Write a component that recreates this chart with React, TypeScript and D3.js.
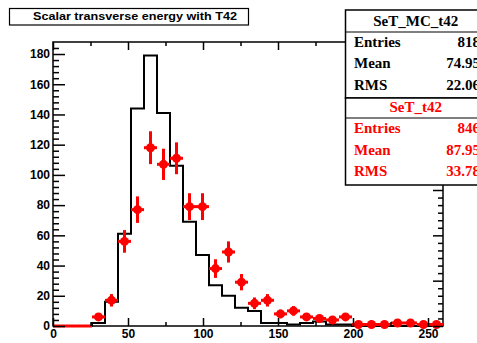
import React, { useEffect, useRef } from 'react';
import * as d3 from 'd3';

// Histogram binning: 30 bins on [0, 260]
const binLow = 0;
const binHigh = 260;
const nBins = 30;

// MC histogram (normalised to data), drawn as black steps
const mcCounts = [
  0, 0, 0, 2, 16, 61, 144, 179, 141, 106, 69, 47, 27, 20, 12,
  10, 2, 2, 1, 2, 3, 1, 1, 0, 0, 0, 0, 0, 0, 0,
];

// Data histogram, drawn as red points with sqrt(N) errors
const dataCounts = [
  0, 0, 0, 6, 17, 56, 77, 118, 107, 111, 79, 79, 38, 49, 29,
  15, 17, 8, 10, 6, 5, 4, 6, 1, 1, 1, 2, 2, 1, 1,
];

const xMajorTicks = [0, 50, 100, 150, 200, 250];
const xMinorTicks = [25, 75, 125, 175, 225];
const yMajorTicks = [0, 20, 40, 60, 80, 100, 120, 140, 160, 180];
const yRightMajorTicks = [0, 30, 60, 90, 120, 150, 180];

const titleText = 'Scalar transverse energy with T42';
const statNames = ['Entries', 'Mean', 'RMS'];
const mcName = 'SeT_MC_t42';
const mcStats = ['818', '74.95', '22.06'];
const dataName = 'SeT_t42';
const dataStats = ['846', '87.95', '33.78'];

const W = 477;
const H = 343;
const SANS = 'Liberation Sans, Arial, Helvetica, sans-serif';
const SERIF = 'Liberation Serif, Times New Roman, serif';

export default function App() {
  const svgRef = useRef<SVGSVGElement>(null);

  useEffect(() => {
    if (!svgRef.current) return;
    const svg = d3.select(svgRef.current);
    svg.selectAll('*').remove();

    const frame = { left: 53, right: 443, top: 42, bottom: 326 };
    const yMax = 179 * 1.05;

    const x = d3.scaleLinear().domain([binLow, binHigh]).range([frame.left, frame.right]);
    const y = d3.scaleLinear().domain([0, yMax]).range([frame.bottom, frame.top]);

    const binW = (binHigh - binLow) / nBins;
    const edges = d3.range(nBins + 1).map((i) => binLow + i * binW);

    svg.append('rect').attr('width', W).attr('height', H).attr('fill', '#fff');

    // frame
    svg
      .append('rect')
      .attr('x', frame.left)
      .attr('y', frame.top)
      .attr('width', frame.right - frame.left)
      .attr('height', frame.bottom - frame.top)
      .attr('fill', '#fff')
      .attr('stroke', '#000')
      .attr('stroke-width', 1.5);

    // MC step histogram
    const stepPts: [number, number][] = mcCounts.map((c, i) => [edges[i], c]);
    stepPts.push([edges[nBins], mcCounts[nBins - 1]]);
    const stepLine = d3
      .line<[number, number]>()
      .x((d) => x(d[0]))
      .y((d) => y(d[1]))
      .curve(d3.curveStepAfter);
    svg
      .append('path')
      .attr('d', stepLine(stepPts) || '')
      .attr('fill', 'none')
      .attr('stroke', '#000')
      .attr('stroke-width', 2);

    // data points
    const pts = svg.append('g');
    dataCounts.forEach((c, i) => {
      const cx = x(edges[i] + binW / 2);
      const cy = y(c);
      pts
        .append('line')
        .attr('x1', x(edges[i]))
        .attr('x2', x(edges[i + 1]))
        .attr('y1', cy)
        .attr('y2', cy)
        .attr('stroke', '#f00')
        .attr('stroke-width', 3);
      if (c > 0) {
        const e = Math.sqrt(c);
        pts
          .append('line')
          .attr('x1', cx)
          .attr('x2', cx)
          .attr('y1', y(c - e))
          .attr('y2', y(c + e))
          .attr('stroke', '#f00')
          .attr('stroke-width', 3);
        pts.append('circle').attr('cx', cx).attr('cy', cy).attr('r', 4.5).attr('fill', '#f00');
      }
    });

    const styleAxis = (g: d3.Selection<SVGGElement, unknown, null, undefined>) => {
      g.select('.domain').remove();
      g.selectAll('line').attr('stroke', '#000').attr('stroke-width', 1.5);
      g.selectAll('text')
        .attr('fill', '#000')
        .attr('font-family', SANS)
        .attr('font-weight', 'bold')
        .attr('font-size', 12);
      g.attr('font-family', null).attr('font-size', null);
    };

    // bottom axis
    svg
      .append('g')
      .attr('transform', `translate(0,${frame.bottom})`)
      .call(d3.axisBottom(x).tickValues(xMajorTicks).tickSize(-8).tickPadding(3).tickFormat(d3.format('d')))
      .call(styleAxis);
    svg
      .append('g')
      .attr('transform', `translate(0,${frame.bottom})`)
      .call(d3.axisBottom(x).tickValues(xMinorTicks).tickSize(-4).tickFormat(() => ''))
      .call(styleAxis);

    // top axis (ticks only)
    svg
      .append('g')
      .attr('transform', `translate(0,${frame.top})`)
      .call(d3.axisTop(x).tickValues(xMajorTicks).tickSize(-8).tickFormat(() => ''))
      .call(styleAxis);
    svg
      .append('g')
      .attr('transform', `translate(0,${frame.top})`)
      .call(d3.axisTop(x).tickValues(xMinorTicks).tickSize(-4).tickFormat(() => ''))
      .call(styleAxis);

    // left axis
    const yMinor = d3.range(0, yMax, 4).filter((v) => v % 20 !== 0);
    svg
      .append('g')
      .attr('transform', `translate(${frame.left},0)`)
      .call(d3.axisLeft(y).tickValues(yMajorTicks).tickSize(-12).tickPadding(3).tickFormat(d3.format('d')))
      .call(styleAxis);
    svg
      .append('g')
      .attr('transform', `translate(${frame.left},0)`)
      .call(d3.axisLeft(y).tickValues(yMinor).tickSize(-6).tickFormat(() => ''))
      .call(styleAxis);

    // right axis (ticks only)
    const yRightMinor = d3.range(0, yMax, 5).filter((v) => v % 30 !== 0);
    svg
      .append('g')
      .attr('transform', `translate(${frame.right},0)`)
      .call(d3.axisRight(y).tickValues(yRightMajorTicks).tickSize(-10).tickFormat(() => ''))
      .call(styleAxis);
    svg
      .append('g')
      .attr('transform', `translate(${frame.right},0)`)
      .call(d3.axisRight(y).tickValues(yRightMinor).tickSize(-5).tickFormat(() => ''))
      .call(styleAxis);

    // title box
    svg
      .append('rect')
      .attr('x', 9.5)
      .attr('y', 8.5)
      .attr('width', 239)
      .attr('height', 16.5)
      .attr('fill', '#fff')
      .attr('stroke', '#000')
      .attr('stroke-width', 1.2);
    svg
      .append('text')
      .attr('x', 33)
      .attr('y', 19.5)
      .attr('font-family', SANS)
      .attr('font-weight', 'bold')
      .attr('font-size', 11.5)
      .attr('textLength', 204)
      .attr('lengthAdjust', 'spacingAndGlyphs')
      .text(titleText);

    // stats boxes
    const boxL = 345.5;
    const boxR = 486;
    const drawStats = (
      top: number,
      headerBottom: number,
      bottom: number,
      name: string,
      values: string[],
      color: string,
      baselines: number[]
    ) => {
      svg
        .append('rect')
        .attr('x', boxL)
        .attr('y', top)
        .attr('width', boxR - boxL)
        .attr('height', bottom - top)
        .attr('fill', '#fff')
        .attr('stroke', '#000')
        .attr('stroke-width', 1.5);
      svg
        .append('line')
        .attr('x1', boxL)
        .attr('x2', boxR)
        .attr('y1', headerBottom)
        .attr('y2', headerBottom)
        .attr('stroke', '#000')
        .attr('stroke-width', 1.2);
      const t = svg
        .append('g')
        .attr('fill', color)
        .attr('font-family', SERIF)
        .attr('font-weight', 'bold')
        .attr('font-size', 15);
      t.append('text')
        .attr('x', (boxL + boxR) / 2)
        .attr('y', baselines[0])
        .attr('text-anchor', 'middle')
        .text(name);
      statNames.forEach((s, i) => {
        t.append('text').attr('x', 354).attr('y', baselines[i + 1]).text(s);
        t.append('text')
          .attr('x', 480)
          .attr('y', baselines[i + 1])
          .attr('text-anchor', 'end')
          .text(values[i]);
      });
    };
    drawStats(10, 32, 98, mcName, mcStats, '#000', [26, 47, 68, 90]);
    drawStats(98, 118, 185, dataName, dataStats, '#f00', [112, 133, 155, 176]);
  }, []);

  return (
    <svg
      ref={svgRef}
      width={W}
      height={H}
      style={{ position: 'absolute', left: 0, top: 0, display: 'block' }}
    ></svg>
  );
}
